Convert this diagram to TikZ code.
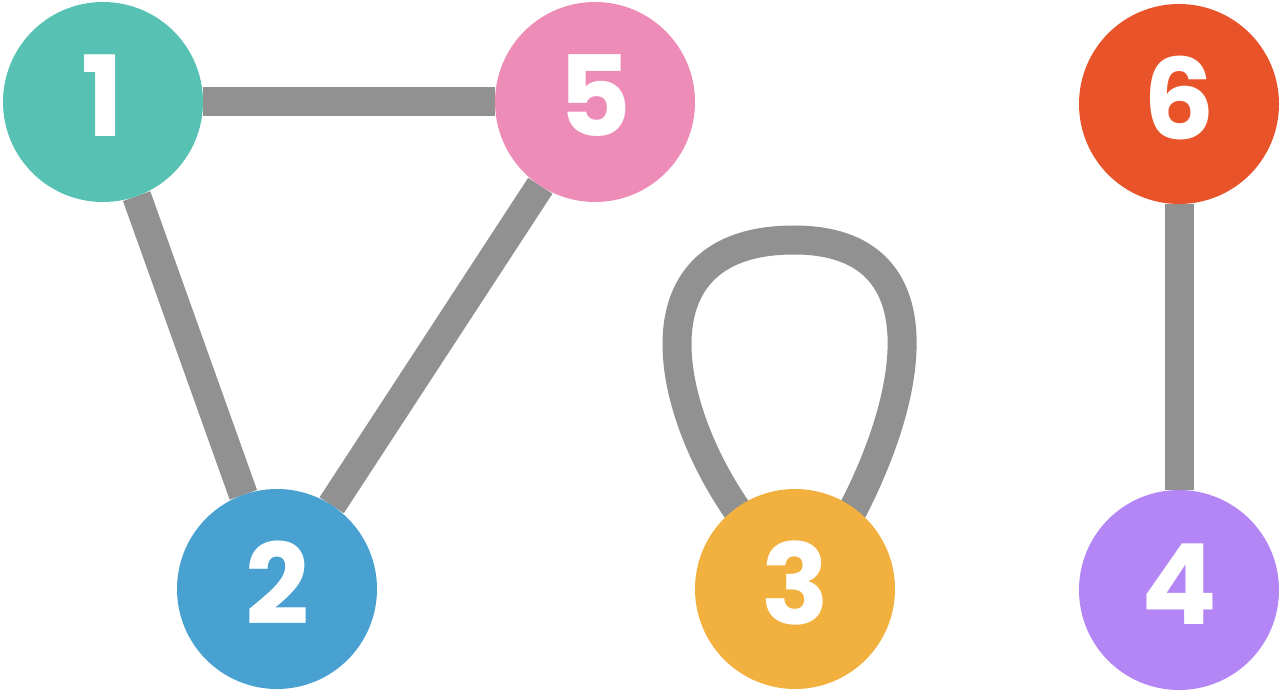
\documentclass[tikz,border=0pt]{standalone}
\usepackage{fontspec}
\newfontfamily\digitfont{Poppins}
\definecolor{cTeal}{HTML}{57C1B4}
\definecolor{cPink}{HTML}{EE8CB8}
\definecolor{cRed}{HTML}{E9532A}
\definecolor{cBlue}{HTML}{48A1D0}
\definecolor{cYellow}{HTML}{F2B03E}
\definecolor{cPurple}{HTML}{B385F5}
\definecolor{cEdge}{HTML}{919191}
\tikzset{
  vertex/.style={circle, minimum size=200pt, inner sep=0pt, outer sep=0pt, fill=#1},
  anchorcircle/.style={circle, minimum size=200pt, inner sep=0pt, outer sep=0pt},
  digit/.style={text=white, font=\digitfont\bfseries\fontsize{112}{112}\selectfont, inner sep=0pt, yshift=6pt},
  edge/.style={draw=cEdge, line width=29pt, line cap=butt},
}
\begin{document}
\begin{tikzpicture}[x=1pt,y=-1pt]
\useasboundingbox (0,0) rectangle (1280,692);
% node positions
\coordinate (p1) at (103,102);
\coordinate (p5) at (595,102);
\coordinate (p6) at (1179,104);
\coordinate (p2) at (277,589);
\coordinate (p3) at (795,589);
\coordinate (p4) at (1179,590);
% invisible vertex shapes for connectors
\node[anchorcircle] (n1) at (p1) {};
\node[anchorcircle] (n5) at (p5) {};
\node[anchorcircle] (n6) at (p6) {};
\node[anchorcircle] (n2) at (p2) {};
\node[anchorcircle] (n3) at (p3) {};
\node[anchorcircle] (n4) at (p4) {};
% edges
\draw[edge] (n1) -- (n5);
\draw[edge] (n1) -- (n2);
\draw[edge] (n5) -- (n2);
\draw[edge] (n6) -- (n4);
\coordinate (loopL) at (752,530);
\coordinate (loopR) at (842,530);
\coordinate (loopT) at (794,240);
\draw[edge] (loopL) .. controls (668,425) and (622,240) .. (loopT)
            .. controls (945,240) and (915,400) .. (loopR);
% vertices
\node[vertex=cTeal] (v1) at (p1) {};
\node[vertex=cPink] (v5) at (p5) {};
\node[vertex=cRed] (v6) at (p6) {};
\node[vertex=cBlue] (v2) at (p2) {};
\node[vertex=cYellow] (v3) at (p3) {};
\node[vertex=cPurple] (v4) at (p4) {};
% labels
\node[digit] (t1) at (v1) {1};
\node[digit] (t5) at (v5) {5};
\node[digit] (t6) at (v6) {6};
\node[digit] (t2) at (v2) {2};
\node[digit] (t3) at (v3) {3};
\node[digit] (t4) at (v4) {4};
\end{tikzpicture}
\end{document}
